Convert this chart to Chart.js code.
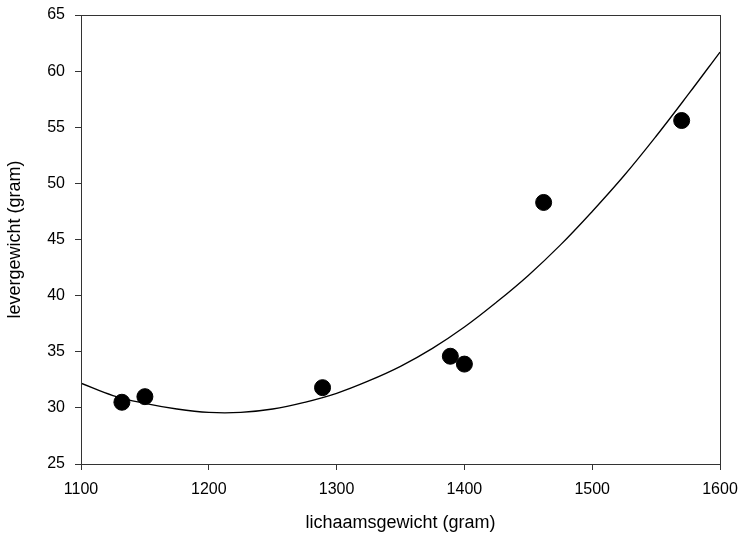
<!DOCTYPE html>
<html>
<head>
<meta charset="utf-8">
<script src="https://cdn.jsdelivr.net/npm/chart.js@4"></script>
<style>
  body { margin: 0; background: #fff; }
</style>
</head>
<body>
<canvas id="chart" width="741" height="543"></canvas>
<script>
// measured points
const bodyWeight = [1132, 1150, 1289, 1389, 1400, 1462, 1570];
const liverWeight = [30.5, 31.0, 31.8, 34.6, 33.9, 48.3, 55.6];

// fitted curve, every 25 g
const curveX = [1100, 1125, 1150, 1175, 1200, 1225, 1250, 1275, 1300, 1325, 1350,
                1375, 1400, 1425, 1450, 1475, 1500, 1525, 1550, 1575, 1600];
const curveY = [32.2, 31.1, 30.4, 29.9, 29.6, 29.6, 29.9, 30.5, 31.3, 32.4, 33.7,
                35.3, 37.2, 39.4, 41.8, 44.5, 47.5, 50.7, 54.2, 57.9, 61.7];

const xTicks = [1100, 1200, 1300, 1400, 1500, 1600];
const yTicks = [25, 30, 35, 40, 45, 50, 55, 60, 65];

const axisColor = '#333333';

Chart.defaults.font.family = '"Liberation Sans", Arial, sans-serif';
Chart.defaults.color = '#000000';

// closes the box on top and right
const frame = {
    id: 'frame',
    afterDatasetsDraw(chart) {
        const { ctx, chartArea: a } = chart;
        ctx.save();
        ctx.strokeStyle = axisColor;
        ctx.lineWidth = 1;
        ctx.strokeRect(a.left + 0.5, a.top + 0.5, a.right - a.left, a.bottom - a.top);
        ctx.restore();
    }
};

new Chart(document.getElementById('chart'), {
    data: {
        datasets: [
            {
                type: 'line',
                data: curveX.map((x, i) => ({ x: x, y: curveY[i] })),
                borderColor: '#000000',
                borderWidth: 1.3,
                pointRadius: 0,
                tension: 0.4,
                fill: false,
                order: 2
            },
            {
                type: 'scatter',
                data: bodyWeight.map((x, i) => ({ x: x, y: liverWeight[i] })),
                backgroundColor: '#000000',
                borderColor: '#000000',
                pointRadius: 8,
                order: 1
            }
        ]
    },
    plugins: [frame],
    options: {
        responsive: false,
        animation: false,
        layout: { padding: { top: 15, right: 21, left: 0, bottom: 0 } },
        plugins: {
            legend: { display: false },
            tooltip: { enabled: false }
        },
        scales: {
            x: {
                type: 'linear',
                min: 1100,
                max: 1600,
                afterBuildTicks: (s) => { s.ticks = xTicks.map(v => ({ value: v })); },
                afterFit: (s) => { s.height = 79; s.paddingRight = 0; s.paddingLeft = 0; },
                ticks: { font: { size: 16 }, padding: 10, maxRotation: 0, callback: (v) => String(v) },
                grid: { drawOnChartArea: false, tickLength: 6, color: axisColor },
                border: { color: axisColor },
                title: {
                    display: true,
                    text: 'lichaamsgewicht (gram)',
                    font: { size: 18 },
                    padding: { top: 0, bottom: 9 }
                }
            },
            y: {
                type: 'linear',
                min: 25,
                max: 65,
                afterBuildTicks: (s) => { s.ticks = yTicks.map(v => ({ value: v })); },
                afterFit: (s) => { s.width = 81; s.paddingTop = 0; s.paddingBottom = 0; },
                ticks: { font: { size: 16 }, padding: 10, callback: (v) => String(v) },
                grid: { drawOnChartArea: false, tickLength: 6, color: axisColor },
                border: { color: axisColor },
                title: {
                    display: true,
                    text: 'levergewicht (gram)',
                    font: { size: 18 },
                    padding: { top: 4, bottom: 0 }
                }
            }
        }
    }
});
</script>
</body>
</html>
